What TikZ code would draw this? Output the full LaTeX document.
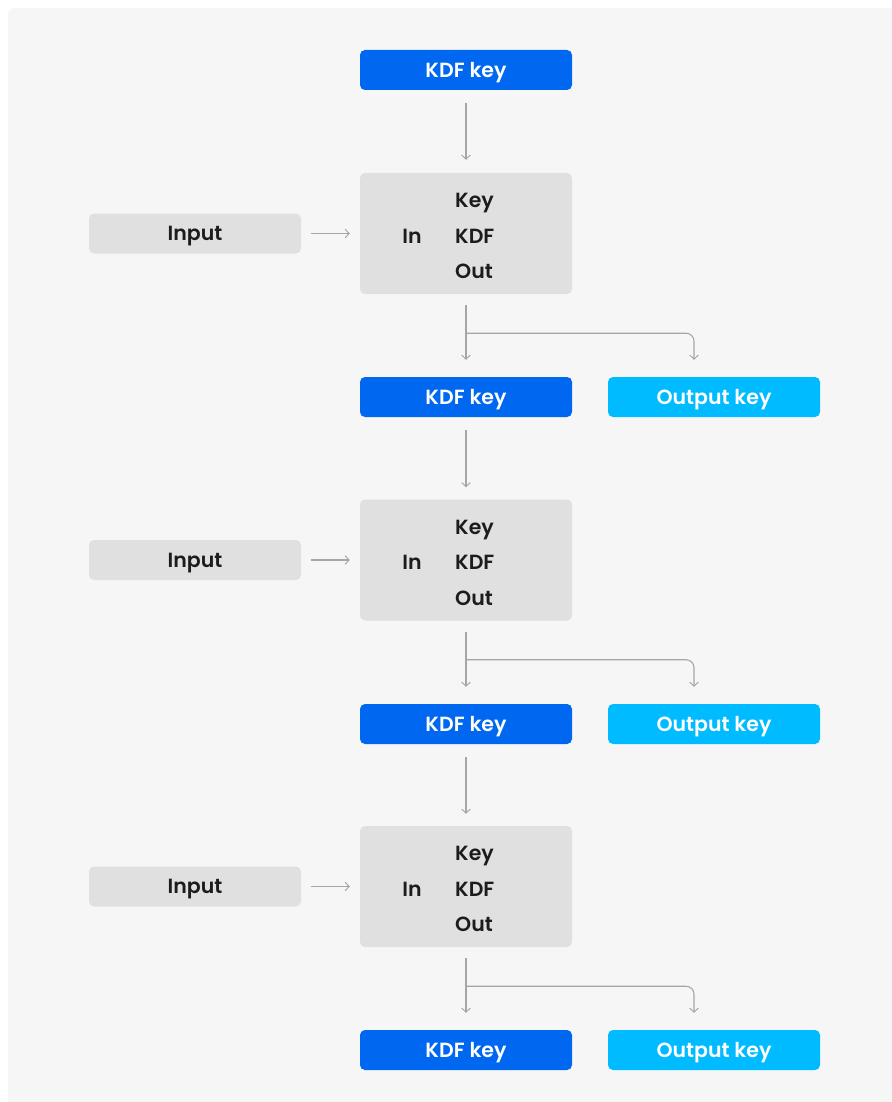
\documentclass[tikz,border=0pt]{standalone}
\usepackage{fontspec}
\IfFontExistsTF{Poppins SemiBold}{\setmainfont{Poppins SemiBold}}{\setmainfont{Poppins}}
\usetikzlibrary{arrows.meta,calc}

\definecolor{pagebg}{HTML}{F6F6F6}
\definecolor{kdfblue}{HTML}{0068F0}
\definecolor{outcyan}{HTML}{00BBFF}
\definecolor{boxgray}{HTML}{E0E0E0}
\definecolor{inkdark}{HTML}{1C1C1C}
\definecolor{linegray}{HTML}{A6A6A6}

\tikzset{
  x=1pt, y=-1pt,
  base/.style={rounded corners=5pt, minimum width=212pt, inner sep=0pt,
    text depth=0pt, font=\fontsize{20.5}{24}\selectfont},
  kdfkey/.style={base, fill=kdfblue, text=white, minimum height=40pt},
  outkey/.style={base, fill=outcyan, text=white, minimum height=40pt},
  inputbox/.style={base, fill=boxgray, text=inkdark, minimum height=40pt},
  kdfbox/.style={base, fill=boxgray, minimum height=121pt},
  lbl/.style={inner sep=0pt, text=inkdark, font=\fontsize{20.5}{24}\selectfont},
  arr/.style={draw=linegray, line width=1.1pt,
    -{Straight Barb[length=4pt,width=8.5pt,line width=1pt]}},
}

\begin{document}
\begin{tikzpicture}
  \useasboundingbox (0,0) rectangle (891,1102);
  % page and panel
  \fill[white] (0,0) rectangle (891,1102);
  \fill[pagebg, rounded corners=7pt] (8,8) rectangle (905,1115);

  % first derivation key
  \node[kdfkey] (k0) at (466,70) {KDF key};

  % three KDF stages
  \foreach \i/\yb/\yk in {1/233.5/397, 2/560/724, 3/886.5/1050} {
    \node[kdfbox] (f\i) at (466,\yb) {};
    \node[lbl, anchor=base west] (fk\i) at (455,\yb-26) {Key};
    \node[lbl, anchor=base west] (fd\i) at (455,\yb+9.5) {KDF};
    \node[lbl, anchor=base west] (fo\i) at (455,\yb+45) {Out};
    \node[lbl, anchor=base] (fi\i) at (412,\yb+9.5) {In};
    \node[inputbox] (i\i) at (195,\yb) {Input};
    \node[kdfkey] (k\i) at (466,\yk) {KDF key};
    \node[outkey] (o\i) at (714,\yk) {Output key};
    \coordinate (b\i) at ($(f\i.south)+(0,39)$);
  }

  % input arrows
  \foreach \i in {1,2,3}
    \draw[arr, shorten <=10pt, shorten >=10pt] (i\i.east) -- (i\i.east -| f\i.west);

  % key chain arrows
  \draw[arr, shorten <=13pt, shorten >=13pt] (k0.south) -- (f1.north);
  \draw[arr, shorten <=13pt, shorten >=12pt] (k1.south) -- (f2.north);
  \draw[arr, shorten <=13pt, shorten >=12pt] (k2.south) -- (f3.north);

  % stage outputs: next KDF key and branch to output key
  \foreach \i in {1,2,3} {
    \draw[arr, shorten <=11pt, shorten >=17pt] (f\i.south) -- (k\i.north);
    \draw[arr, rounded corners=8pt, shorten >=17pt]
      (b\i) -| ([xshift=-20pt]o\i.north);
  }
\end{tikzpicture}
\end{document}
